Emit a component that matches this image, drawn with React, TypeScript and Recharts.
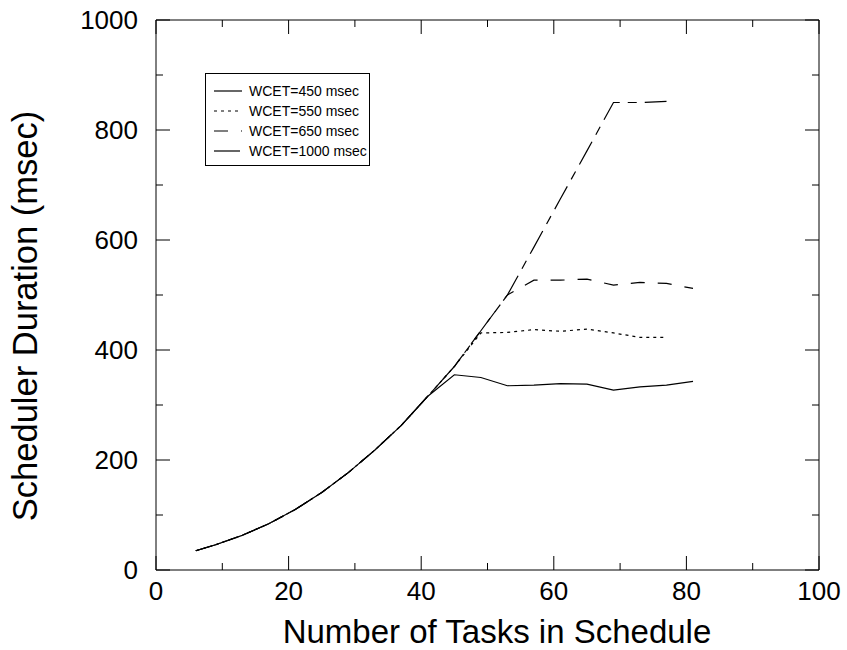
import { useEffect } from 'react'
import { Line, LineChart, XAxis, YAxis } from 'recharts'

const X_TICKS = [0, 10, 20, 30, 40, 50, 60, 70, 80, 90, 100]
const Y_TICKS = [0, 100, 200, 300, 400, 500, 600, 700, 800, 900, 1000]

const WCET450_X = [6, 9, 13, 17, 21, 25, 29, 33, 37, 41, 45, 49, 53, 57, 61, 65, 69, 73, 77, 81]
const WCET450_Y = [35, 46, 63, 84, 110, 141, 177, 218, 263, 316, 355, 350, 335, 336, 339, 338, 327, 333, 336, 343]

const WCET550_X = [6, 9, 13, 17, 21, 25, 29, 33, 37, 41, 45, 49, 53, 57, 61, 65, 69, 73, 77]
const WCET550_Y = [35, 46, 63, 84, 110, 141, 177, 218, 263, 316, 370, 431, 432, 437, 434, 438, 431, 423, 423]

const WCET650_X = [6, 9, 13, 17, 21, 25, 29, 33, 37, 41, 45, 49, 53, 57, 61, 65, 69, 73, 77, 81]
const WCET650_Y = [35, 46, 63, 84, 110, 141, 177, 218, 263, 316, 370, 435, 500, 527, 527, 529, 518, 523, 521, 512]

const WCET1000_X = [6, 9, 13, 17, 21, 25, 29, 33, 37, 41, 45, 49, 53, 57, 61, 65, 69, 73, 77]
const WCET1000_Y = [35, 46, 63, 84, 110, 141, 177, 218, 263, 316, 370, 435, 500, 587, 675, 762, 850, 850, 852]

const toPoints = (xs: number[], ys: number[]) => xs.map((x, i) => ({ x, y: ys[i] }))

const SERIES = [
  { name: 'WCET=450 msec', data: toPoints(WCET450_X, WCET450_Y), dash: undefined },
  { name: 'WCET=550 msec', data: toPoints(WCET550_X, WCET550_Y), dash: '3 4' },
  { name: 'WCET=650 msec', data: toPoints(WCET650_X, WCET650_Y), dash: '14 13' },
  { name: 'WCET=1000 msec', data: toPoints(WCET1000_X, WCET1000_Y), dash: '26 8 9 8' },
]

const FONT = '"Liberation Sans", Arial, sans-serif'

const BottomTick = ({ x, y, payload }: any) => {
  const major = payload.value % 20 === 0
  return (
    <g>
      <line x1={x} y1={y} x2={x} y2={y - (major ? 14 : 7)} stroke="#000" />
      {major && (
        <text x={x} y={y + 30} textAnchor="middle" fontSize={26} fontFamily={FONT} fill="#000">
          {payload.value}
        </text>
      )}
    </g>
  )
}

const TopTick = ({ x, y, payload }: any) => {
  const major = payload.value % 20 === 0
  return <line x1={x} y1={y} x2={x} y2={y + (major ? 14 : 7)} stroke="#000" />
}

const LeftTick = ({ x, y, payload }: any) => {
  const major = payload.value % 200 === 0
  return (
    <g>
      <line x1={x} y1={y} x2={x + (major ? 14 : 7)} y2={y} stroke="#000" />
      {major && (
        <text x={x - 18} y={y} dy="0.36em" textAnchor="end" fontSize={26} fontFamily={FONT} fill="#000">
          {payload.value}
        </text>
      )}
    </g>
  )
}

const RightTick = ({ x, y, payload }: any) => {
  const major = payload.value % 200 === 0
  return <line x1={x} y1={y} x2={x - (major ? 14 : 7)} y2={y} stroke="#000" />
}

function LegendBox() {
  return (
    <div
      style={{
        position: 'absolute',
        left: 205,
        top: 73,
        border: '1px solid #000',
        background: '#fff',
        padding: '7px 2px 4px 8px',
        fontFamily: FONT,
        fontSize: 14,
        lineHeight: '20px',
      }}
    >
      {SERIES.map((s) => (
        <div key={s.name} style={{ display: 'flex', alignItems: 'center' }}>
          <svg width={28} height={20} style={{ marginRight: 7 }}>
            <line x1={0} y1={10} x2={28} y2={10} stroke="#000" strokeWidth={1.2} strokeDasharray={s.dash} />
          </svg>
          <span>{s.name}</span>
        </div>
      ))}
    </div>
  )
}

export default function App() {
  useEffect(() => {
    document.body.style.margin = '0'
  }, [])

  return (
    <div style={{ position: 'relative', width: 847, height: 650, background: '#fff' }}>
      <LineChart
        width={847}
        height={650}
        data={SERIES[0].data}
        margin={{ top: 19, right: 27, bottom: 0, left: 0 }}
      >
        <XAxis
          xAxisId="bottom"
          dataKey="x"
          type="number"
          domain={[0, 100]}
          ticks={X_TICKS}
          interval={0}
          height={80}
          tickSize={0}
          tickMargin={0}
          tickLine={false}
          axisLine={{ stroke: '#000' }}
          tick={<BottomTick />}
          label={() => (
            <text x={497} y={643} textAnchor="middle" fontSize={33} fontFamily={FONT} fill="#000">
              Number of Tasks in Schedule
            </text>
          )}
        />
        <XAxis
          xAxisId="top"
          orientation="top"
          dataKey="x"
          type="number"
          domain={[0, 100]}
          allowDataOverflow
          ticks={X_TICKS}
          interval={0}
          height={1}
          tickSize={0}
          tickMargin={0}
          tickLine={false}
          axisLine={{ stroke: '#000' }}
          tick={<TopTick />}
        />
        <YAxis
          yAxisId="left"
          type="number"
          domain={[0, 1000]}
          ticks={Y_TICKS}
          interval={0}
          width={156}
          tickSize={0}
          tickMargin={0}
          tickLine={false}
          axisLine={{ stroke: '#000' }}
          tick={<LeftTick />}
          label={() => (
            <text
              x={37}
              y={316}
              transform="rotate(-90, 37, 316)"
              textAnchor="middle"
              fontSize={34.5}
              fontFamily={FONT}
              fill="#000"
            >
              Scheduler Duration (msec)
            </text>
          )}
        />
        <YAxis
          yAxisId="right"
          orientation="right"
          type="number"
          domain={[0, 1000]}
          allowDataOverflow
          ticks={Y_TICKS}
          interval={0}
          width={1}
          tickSize={0}
          tickMargin={0}
          tickLine={false}
          axisLine={{ stroke: '#000' }}
          tick={<RightTick />}
        />
        {SERIES.map((s) => (
          <Line
            key={s.name}
            xAxisId="bottom"
            yAxisId="left"
            data={s.data}
            dataKey="y"
            type="linear"
            stroke="#000"
            strokeWidth={1.2}
            strokeDasharray={s.dash}
            dot={false}
            activeDot={false}
            isAnimationActive={false}
          />
        ))}
      </LineChart>
      <LegendBox />
    </div>
  )
}
